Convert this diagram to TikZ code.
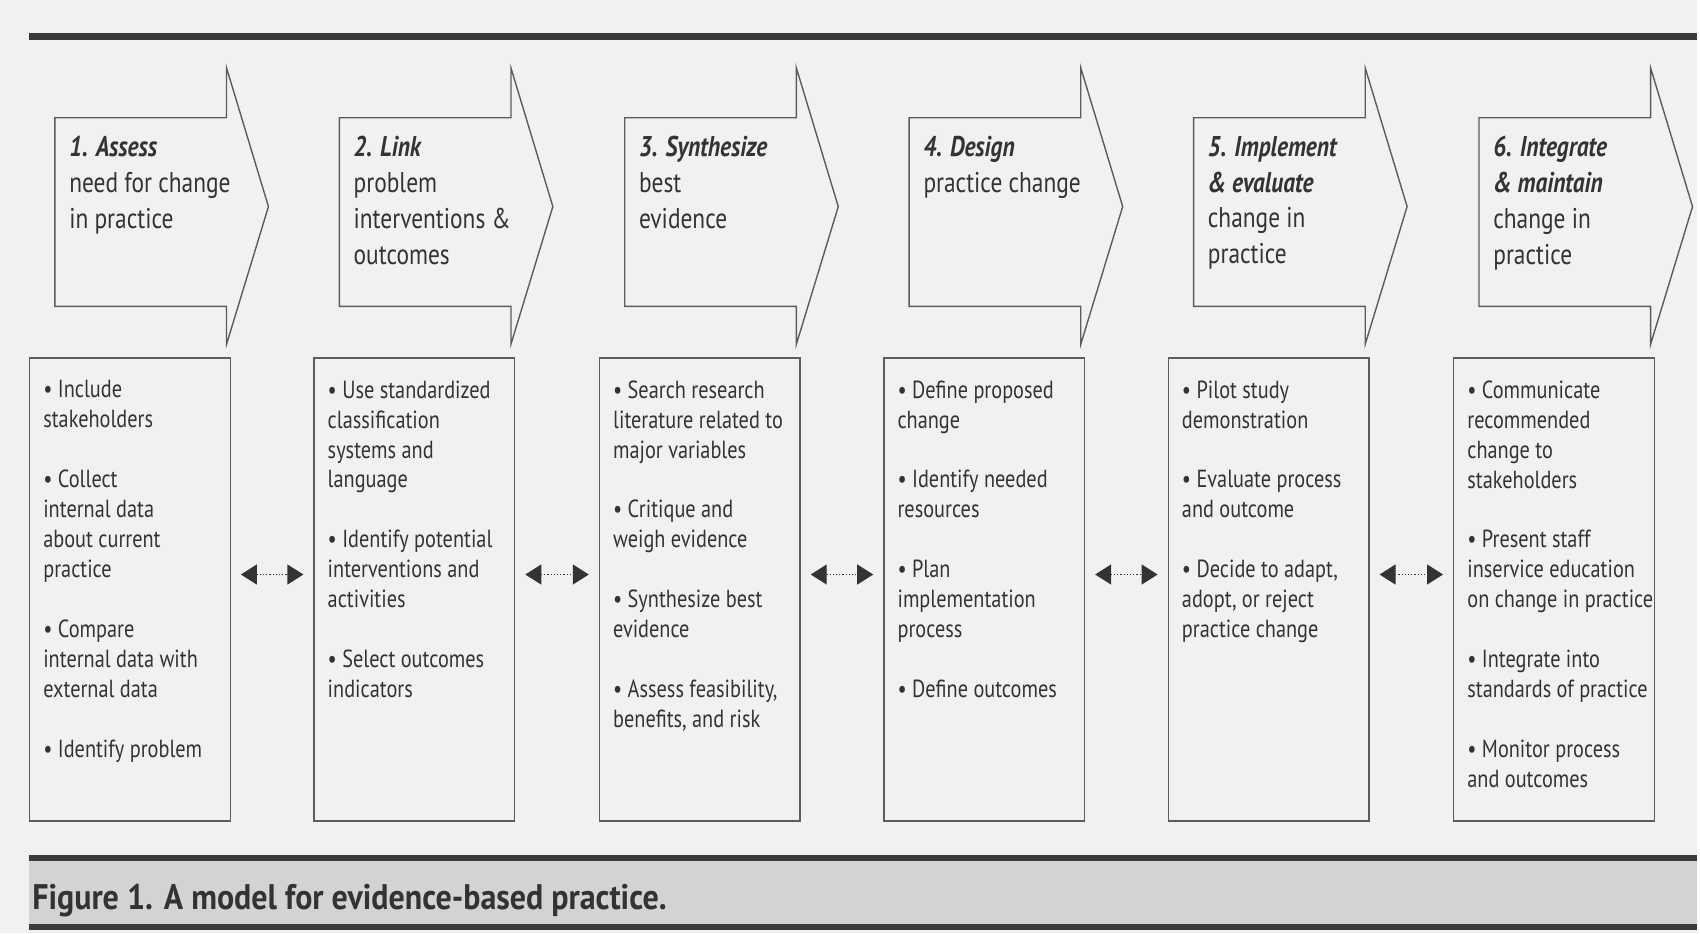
\documentclass[tikz,border=0pt]{standalone}
\usepackage{fontspec}
\setmainfont{PT Sans}[FakeStretch=0.82]
\newfontfamily\capfont{PT Sans}[FakeStretch=0.9]
\usepackage{tikz}
\usetikzlibrary{arrows.meta,positioning}
\definecolor{paper}{HTML}{F1F1F1}
\definecolor{rulegray}{HTML}{3A3A3A}
\definecolor{bandgray}{HTML}{D3D3D3}
\definecolor{linegray}{HTML}{5C5C5C}
\definecolor{ink}{HTML}{333333}

\begin{document}
\begin{tikzpicture}[x=0.5pt,y=-0.5pt,
  stage/.style={draw=linegray,line width=0.7pt,line join=miter},
  stagetext/.style={text=ink,inner sep=0pt,align=left,font=\fontsize{14.3}{18}\selectfont},
  box/.style={draw=linegray,line width=0.7pt,minimum width=100.5pt,minimum height=232pt,anchor=north west,inner sep=0pt},
  items/.style={text=ink,inner sep=0pt,align=left,font=\fontsize{12.4}{15}\selectfont},
  link/.style={draw=ink,densely dotted,line width=0.6pt,{Triangle[length=8pt,width=10pt]}-{Triangle[length=8pt,width=10pt]},shorten <=5pt,shorten >=5pt},
  rule/.style={draw=rulegray,line width=3pt}]
\fill[paper] (0,0) rectangle (1700,935);
\draw[rule,line width=3.5pt] (29,37) -- (1700,37);

\draw[stage] (55,118) coordinate (a1) -- (227,118) -- (227,68) -- (269,207) -- (227,345) -- (227,307) -- (55,307) -- cycle;
\draw[stage] (340,118) coordinate (a2) -- (512,118) -- (512,68) -- (554,207) -- (512,345) -- (512,307) -- (340,307) -- cycle;
\draw[stage] (626,118) coordinate (a3) -- (798,118) -- (798,68) -- (840,207) -- (798,345) -- (798,307) -- (626,307) -- cycle;
\draw[stage] (911,118) coordinate (a4) -- (1083,118) -- (1083,68) -- (1125,207) -- (1083,345) -- (1083,307) -- (911,307) -- cycle;
\draw[stage] (1196,118) coordinate (a5) -- (1368,118) -- (1368,68) -- (1410,207) -- (1368,345) -- (1368,307) -- (1196,307) -- cycle;
\draw[stage] (1482,118) coordinate (a6) -- (1654,118) -- (1654,68) -- (1696,207) -- (1654,345) -- (1654,307) -- (1482,307) -- cycle;

\node[stagetext,below right=9pt and 7pt of a1] (s1) {\textbf{\textit{1. Assess}}\\need for change\\in practice};
\node[stagetext,below right=9pt and 7pt of a2] (s2) {\textbf{\textit{2. Link}}\\problem\\interventions \&\\outcomes};
\node[stagetext,below right=9pt and 7pt of a3] (s3) {\textbf{\textit{3. Synthesize}}\\best\\evidence};
\node[stagetext,below right=9pt and 7pt of a4] (s4) {\textbf{\textit{4. Design}}\\practice change};
\node[stagetext,below right=9pt and 7pt of a5] (s5) {\textbf{\textit{5. Implement}}\\\textbf{\textit{\& evaluate}}\\change in\\practice};
\node[stagetext,below right=9pt and 7pt of a6] (s6) {\textbf{\textit{6. Integrate}}\\\textbf{\textit{\& maintain}}\\change in\\practice};

\node[box] (b1) at (29,358) {};
\node[box] (b2) at (314,358) {};
\node[box] (b3) at (600,358) {};
\node[box] (b4) at (885,358) {};
\node[box] (b5) at (1170,358) {};
\node[box] (b6) at (1456,358) {};

\node[items,below right=11.5pt and 7pt of b1.north west] (t1) {\textbullet{} Include\\stakeholders\\[15pt]\textbullet{} Collect\\internal data\\about current\\practice\\[15pt]\textbullet{} Compare\\internal data with\\external data\\[15pt]\textbullet{} Identify problem};
\node[items,below right=11.5pt and 7pt of b2.north west] (t2) {\textbullet{} Use standardized\\classification\\systems and\\language\\[15pt]\textbullet{} Identify potential\\interventions and\\activities\\[15pt]\textbullet{} Select outcomes\\indicators};
\node[items,below right=11.5pt and 7pt of b3.north west] (t3) {\textbullet{} Search research\\literature related to\\major variables\\[15pt]\textbullet{} Critique and\\weigh evidence\\[15pt]\textbullet{} Synthesize best\\evidence\\[15pt]\textbullet{} Assess feasibility,\\benefits, and risk};
\node[items,below right=11.5pt and 7pt of b4.north west] (t4) {\textbullet{} Define proposed\\change\\[15pt]\textbullet{} Identify needed\\resources\\[15pt]\textbullet{} Plan\\implementation\\process\\[15pt]\textbullet{} Define outcomes};
\node[items,below right=11.5pt and 7pt of b5.north west] (t5) {\textbullet{} Pilot study\\demonstration\\[15pt]\textbullet{} Evaluate process\\and outcome\\[15pt]\textbullet{} Decide to adapt,\\adopt, or reject\\practice change};
\node[items,below right=11.5pt and 7pt of b6.north west] (t6) {\textbullet{} Communicate\\recommended\\change to\\stakeholders\\[15pt]\textbullet{} Present staff\\inservice education\\on change in practice\\[15pt]\textbullet{} Integrate into\\standards of practice\\[15pt]\textbullet{} Monitor process\\and outcomes};

\draw[link] ([yshift=7.5pt]b1.east) -- ([yshift=7.5pt]b2.west);
\draw[link] ([yshift=7.5pt]b2.east) -- ([yshift=7.5pt]b3.west);
\draw[link] ([yshift=7.5pt]b3.east) -- ([yshift=7.5pt]b4.west);
\draw[link] ([yshift=7.5pt]b4.east) -- ([yshift=7.5pt]b5.west);
\draw[link] ([yshift=7.5pt]b5.east) -- ([yshift=7.5pt]b6.west);

\fill[bandgray] (29,860) rectangle (1700,929);
\draw[rule] (29,860) -- (1700,860);
\draw[rule] (29,929) -- (1700,929);
\node[anchor=base west,inner sep=0pt,text=ink,font=\capfont\fontsize{17.8}{20}\selectfont\bfseries] (cap) at (32,911) {Figure 1. A model for evidence-based practice.};
\end{tikzpicture}
\end{document}
